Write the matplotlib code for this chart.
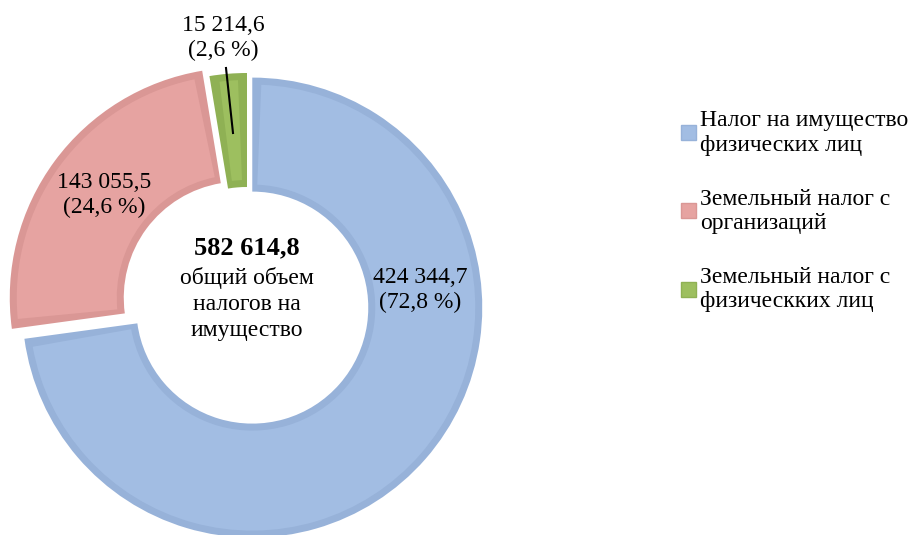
import matplotlib.pyplot as plt
from matplotlib.patches import Patch, Wedge

plt.rcParams['font.family'] = ['Liberation Serif', 'DejaVu Serif']

labels = ["Налог на имущество\nфизических лиц",
          "Земельный налог с\nорганизаций",
          "Земельный налог с\nфизическких лиц"]
values = [424344.7, 143055.5, 15214.6]
colors = ["#a2bde3", "#e6a3a1", "#9dbf5f"]
rims = ["#97b2d9", "#da9795", "#8fb154"]

total = sum(values)


def fmt(v):
    return f"{v:,.1f}".replace(",", " ").replace(".", ",")


W, H = 909, 535
fig = plt.figure(figsize=(W / 100, H / 100), dpi=100)
ax = fig.add_axes([0, 0, 1, 1])

# pixel coordinates, y up
cx, cy, R, ring = 247, H - 303, 230, 114
wedges, _ = ax.pie(values, colors=rims, startangle=90, counterclock=False,
                   radius=R, center=(cx, cy), explode=[7, 9, 0],
                   wedgeprops=dict(width=ring, linewidth=0))

# lighter face inside each wedge to hint at the bevel
b = 7
for w, c in zip(wedges, colors):
    da = b / (R - ring / 2) * 57.3
    face = Wedge(w.center, R - b, w.theta1 + da, w.theta2 - da,
                 width=ring - 2 * b, facecolor=c, linewidth=0)
    ax.add_patch(face)

ax.set_xlim(0, W)
ax.set_ylim(0, H)
ax.set_aspect('auto')
ax.axis('off')

# text layer in pixel coords (y down)
tx = fig.add_axes([0, 0, 1, 1])
tx.set_xlim(0, W)
tx.set_ylim(H, 0)
tx.axis('off')

fs = 17
pct = [v / total * 100 for v in values]
txt = [f"{fmt(v)}\n({p:.1f} %)".replace(".", ",") for v, p in zip(values, pct)]
tx.text(420, 290, txt[0], ha='center', va='center', fontsize=fs, linespacing=1.25)
tx.text(104, 195, txt[1], ha='center', va='center', fontsize=fs, linespacing=1.25)
tx.text(223, 38, txt[2], ha='center', va='center', fontsize=fs, linespacing=1.25)
tx.plot([226, 233], [68, 133], color='black', lw=1.5)

tx.text(cx, 248, fmt(total), ha='center', va='center',
        fontsize=19, fontweight='bold')
tx.text(cx, 304, "общий объем\nналогов на\nимущество", ha='center',
        va='center', fontsize=fs, linespacing=1.3)

handles = [Patch(facecolor=c, edgecolor=e) for c, e in zip(colors, rims)]
tx.legend(handles, labels, loc='upper left', bbox_to_anchor=(672 / W, 1 - 101 / H),
          frameon=False, fontsize=fs, handlelength=0.6, handleheight=0.6,
          handletextpad=0.2, labelspacing=1.4, borderaxespad=0)

fig.savefig("out.png", dpi=100)
